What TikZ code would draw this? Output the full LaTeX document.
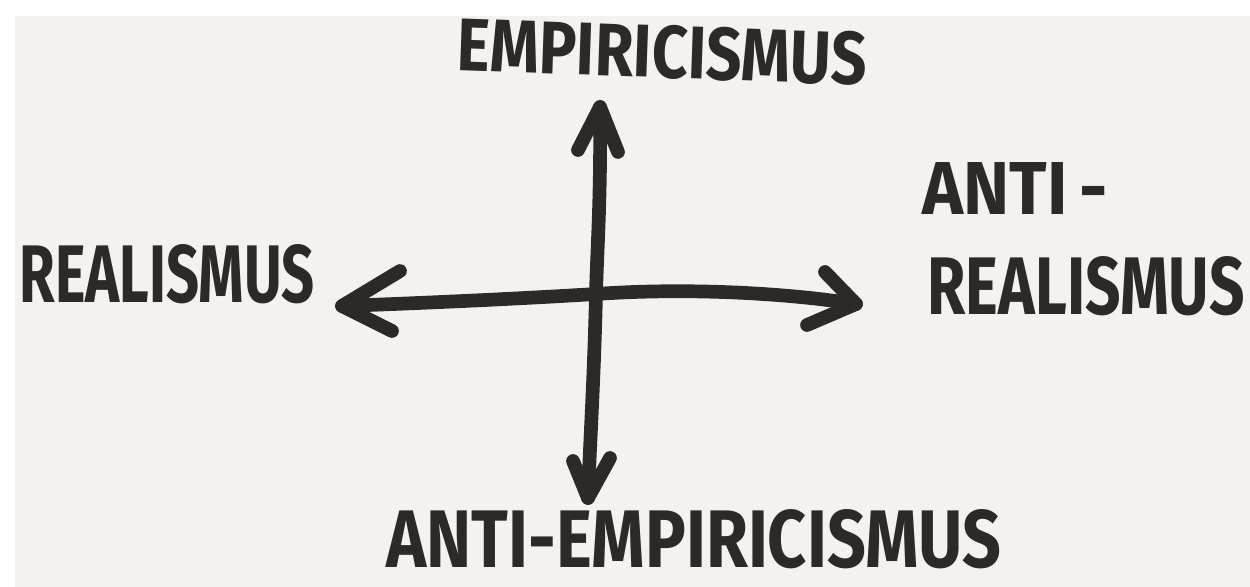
\documentclass[tikz,border=0pt]{standalone}
\usepackage{fontspec}
\setmainfont{Fira Sans}
\usepackage{graphicx}
\definecolor{inkc}{HTML}{2B2A27}
\definecolor{bgc}{HTML}{F3F2EE}
\begin{document}
\begin{tikzpicture}[x=0.02cm,y=-0.02cm,
  ink/.style={draw=inkc, line width=7.8pt, line cap=round, line join=round},
  lbl/.style={inner sep=0pt, text=inkc, font=\bfseries}]
\useasboundingbox (0,0) rectangle (1250,587);
\fill[white] (0,0) rectangle (1250,587);
\fill[bgc] (15,16) rectangle (1250,587);
% labels
\node[lbl, rotate=-2] (emp) at (662,52) {\resizebox{8.2cm}{1.06cm}{EMPIRICISMUS}};
\node[lbl] (real) at (167,274) {\resizebox{5.9cm}{1.16cm}{REALISMUS}};
\node[lbl] (anti) at (1015,189) {\resizebox{3.7cm}{1.04cm}{ANTI\,-}};
\node[lbl] (areal) at (1086,286) {\resizebox{6.34cm}{1.16cm}{REALISMUS}};
\node[lbl] (aemp) at (694,539) {\resizebox{12.3cm}{1.16cm}{ANTI-EMPIRICISMUS}};
% arrow coordinates
\coordinate (T) at (600,107);
\coordinate (Tl) at (578,150);
\coordinate (Tr) at (618,152);
\coordinate (B) at (588,498);
\coordinate (Bl) at (573,461);
\coordinate (Br) at (610,458);
\coordinate (C) at (596,294);
\coordinate (L) at (342,306);
\coordinate (Lu) at (400,271);
\coordinate (Ld) at (392,331);
\coordinate (R) at (856,304);
\coordinate (Ru) at (825,272);
\coordinate (Rd) at (807,325);
% vertical axis
\draw[ink] (T) .. controls (601,200) and (597,250) .. (C) .. controls (594,380) and (590,440) .. (B);
\draw[ink] (Tl) -- (T) -- (Tr);
\draw[ink] (Bl) -- (B) -- (Br);
% horizontal axis
\draw[ink] (L) .. controls (450,302) and (530,298) .. (C) .. controls (680,288) and (780,292) .. (R);
\draw[ink] (Lu) -- (L) -- (Ld);
\draw[ink] (Ru) -- (R) -- (Rd);
\end{tikzpicture}
\end{document}
